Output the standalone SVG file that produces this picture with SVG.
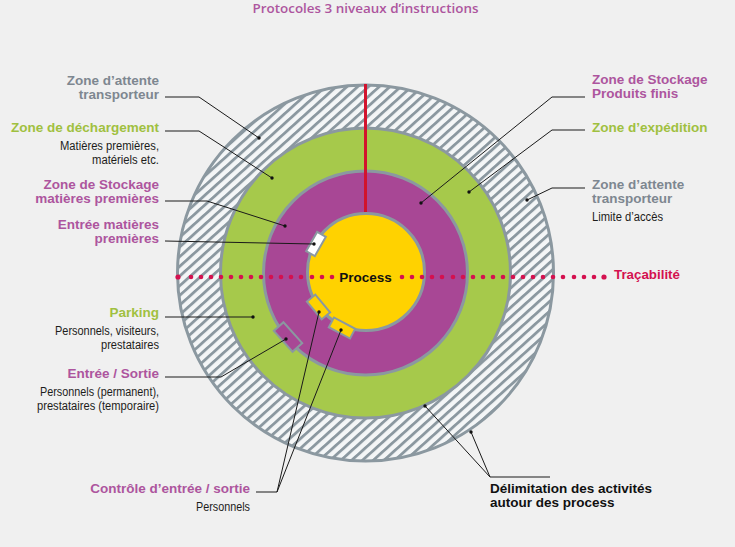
<svg xmlns="http://www.w3.org/2000/svg" width="735" height="547" viewBox="0 0 735 547">
<style>
.h{font-family:"Liberation Sans",Arial,sans-serif;font-weight:700;font-size:13.5px}
.s{font-family:"Liberation Sans",Arial,sans-serif;font-size:12.5px;fill:#1d1d1b}
.e{text-anchor:end}
.gr{fill:#7e8790}.gn{fill:#a0c040}.pu{fill:#ad559e}.bk{fill:#111}
.ring{stroke:#8b98a0;stroke-width:3}
.ln{fill:none;stroke:#1a1a1a;stroke-width:1}
.dot{fill:#111}
.gate{stroke:#8b98a0;stroke-width:2}
.tr circle{fill:#d4114f}
</style>
<defs>
<pattern id="hatch" width="7.2" height="7.2" patternUnits="userSpaceOnUse" patternTransform="rotate(-42)">
<rect width="7.2" height="7.2" fill="#f4f6f7"/>
<rect width="7.2" height="2.8" fill="#8b98a0"/>
</pattern>
</defs>
<rect width="735" height="547" fill="#f0f0f0"/>
<text x="365.5" y="13" text-anchor="middle" font-family="'Open Sans',sans-serif" font-weight="600" font-size="13px" fill="#ad559e" textLength="226" lengthAdjust="spacingAndGlyphs">Protocoles 3 niveaux d’instructions</text>

<g id="zone-attente"><circle class="ring" cx="365.5" cy="273" r="188" fill="url(#hatch)"/></g>
<g id="zone-verte"><circle class="ring" cx="365.5" cy="273" r="145" fill="#a6c94b"/></g>
<g id="zone-stockage"><circle class="ring" cx="365.5" cy="273" r="102" fill="#a84795"/></g>
<g id="process"><circle class="ring" cx="366" cy="272" r="58.5" fill="#ffd200"/>
<text class="h bk" x="365.5" y="282" text-anchor="middle">Process</text></g>
<line x1="365.5" y1="84" x2="365.5" y2="212" stroke="#d2132d" stroke-width="3"/>

<g id="entree-mp"><rect class="gate" x="305" y="239" width="22" height="10" fill="#fff" transform="rotate(-60 316 244)"/></g>
<g id="controle-1"><rect class="gate" x="307" y="301.5" width="23" height="11" fill="#ffd200" transform="rotate(50 318.5 307)"/></g>
<g id="controle-2"><rect class="gate" x="330" y="322.5" width="24" height="11" fill="#ffd200" transform="rotate(28 342 328)"/></g>
<g id="entree-sortie"><rect class="gate" x="274" y="330.5" width="28" height="13" fill="#a84795" transform="rotate(48 288 337)"/></g>

<g id="tracabilite" class="tr">
<circle cx="178" cy="277" r="2.6"/><circle cx="191" cy="277" r="2.3"/><circle cx="201" cy="277" r="2.3"/><circle cx="211" cy="277" r="2.3"/><circle cx="221" cy="277" r="2.3"/><circle cx="231" cy="277" r="2.3"/><circle cx="241" cy="277" r="2.3"/><circle cx="251" cy="277" r="2.3"/><circle cx="261" cy="277" r="2.3"/><circle cx="271" cy="277" r="2.3"/><circle cx="281" cy="277" r="2.3"/><circle cx="291" cy="277" r="2.3"/><circle cx="301" cy="277" r="2.3"/><circle cx="312" cy="277" r="2.3"/><circle cx="322" cy="277" r="2.3"/><circle cx="332" cy="277" r="2.3"/>
<circle cx="402" cy="277" r="2.3"/><circle cx="412" cy="277" r="2.3"/><circle cx="422" cy="277" r="2.3"/><circle cx="432" cy="277" r="2.3"/><circle cx="442" cy="277" r="2.3"/><circle cx="453" cy="277" r="2.3"/><circle cx="463" cy="277" r="2.3"/><circle cx="473" cy="277" r="2.3"/><circle cx="483" cy="277" r="2.3"/><circle cx="493" cy="277" r="2.3"/><circle cx="503" cy="277" r="2.3"/><circle cx="513" cy="277" r="2.3"/><circle cx="523" cy="277" r="2.3"/><circle cx="533" cy="277" r="2.3"/><circle cx="543" cy="277" r="2.3"/><circle cx="553" cy="277" r="2.3"/><circle cx="563" cy="277" r="2.3"/><circle cx="574" cy="277" r="2.3"/><circle cx="584" cy="277" r="2.3"/><circle cx="594" cy="277" r="2.3"/><circle cx="604" cy="277" r="2.6"/>
<text class="h" x="614" y="279" fill="#d4114f" textLength="66" lengthAdjust="spacingAndGlyphs">Traçabilité</text>
</g>

<g id="connectors">
<polyline class="ln" points="165,97 199,97 259,138"/><circle class="dot" cx="259" cy="138" r="1.7"/>
<polyline class="ln" points="165,131 199,131 272,178"/><circle class="dot" cx="272" cy="178" r="1.7"/>
<polyline class="ln" points="165,201 207,201 285,226"/><circle class="dot" cx="285" cy="226" r="1.7"/>
<polyline class="ln" points="165,241 314,244"/><circle class="dot" cx="314" cy="244" r="1.7"/>
<polyline class="ln" points="165,317 253,317"/><circle class="dot" cx="253" cy="317" r="1.7"/>
<polyline class="ln" points="165,377 221,377 286,339"/><circle class="dot" cx="286" cy="339" r="1.7"/>
<polyline class="ln" points="256,492 277,492 319,312"/><circle class="dot" cx="319" cy="312" r="1.7"/>
<polyline class="ln" points="277,492 341,330"/><circle class="dot" cx="341" cy="330" r="1.7"/>
<polyline class="ln" points="585,97 552,97 421,203"/><circle class="dot" cx="421" cy="203" r="1.7"/>
<polyline class="ln" points="585,130 552,130 469,192"/><circle class="dot" cx="469" cy="192" r="1.7"/>
<polyline class="ln" points="585,188 552,188 527,200"/><circle class="dot" cx="527" cy="200" r="1.7"/>
<polyline class="ln" points="550,477 490,477 425,406"/><circle class="dot" cx="425" cy="406" r="1.7"/>
<polyline class="ln" points="490,477 471,432"/><circle class="dot" cx="471" cy="432" r="1.7"/>
</g>

<g id="labels-left">
<text class="h e gr" y="85"><tspan x="159">Zone d’attente</tspan><tspan x="159" dy="13.5">transporteur</tspan></text>
<text class="h e gn" x="159" y="132" textLength="148" lengthAdjust="spacingAndGlyphs">Zone de déchargement</text>
<text class="s e" x="159" y="150" textLength="99" lengthAdjust="spacingAndGlyphs">Matières premières,</text>
<text class="s e" x="159" y="164" textLength="67" lengthAdjust="spacingAndGlyphs">matériels etc.</text>
<text class="h e pu" y="189"><tspan x="159">Zone de Stockage</tspan><tspan x="159" dy="13.5">matières premières</tspan></text>
<text class="h e pu" y="229"><tspan x="159">Entrée matières</tspan><tspan x="159" dy="13.5">premières</tspan></text>
<text class="h e gn" x="159" y="317">Parking</text>
<text class="s e" x="159" y="335" textLength="104" lengthAdjust="spacingAndGlyphs">Personnels, visiteurs,</text>
<text class="s e" x="159" y="349" textLength="58" lengthAdjust="spacingAndGlyphs">prestataires</text>
<text class="h e pu" x="159" y="378">Entrée / Sortie</text>
<text class="s e" x="159" y="396" textLength="119" lengthAdjust="spacingAndGlyphs">Personnels (permanent),</text>
<text class="s e" x="159" y="410" textLength="122" lengthAdjust="spacingAndGlyphs">prestataires (temporaire)</text>
<text class="h e pu" x="250" y="493">Contrôle d’entrée / sortie</text>
<text class="s e" x="250" y="511" textLength="54" lengthAdjust="spacingAndGlyphs">Personnels</text>
</g>
<g id="labels-right">
<text class="h pu" y="84"><tspan x="592">Zone de Stockage</tspan><tspan x="592" dy="14">Produits finis</tspan></text>
<text class="h gn" x="592" y="132">Zone d’expédition</text>
<text class="h gr" y="189"><tspan x="592">Zone d’attente</tspan><tspan x="592" dy="13.5">transporteur</tspan></text>
<text class="s" x="592" y="221" textLength="71" lengthAdjust="spacingAndGlyphs">Limite d’accès</text>
<text class="h bk" y="493"><tspan x="490">Délimitation des activités</tspan><tspan x="490" dy="14">autour des process</tspan></text>
</g>
</svg>
